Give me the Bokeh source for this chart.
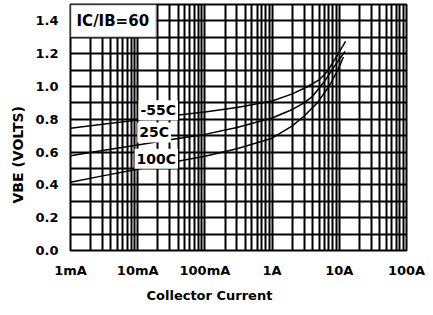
import math
from bokeh.plotting import figure
from bokeh.models import (FixedTicker, CustomJSTickFormatter, PrintfTickFormatter,
                          Label, BoxAnnotation, Title)
from bokeh.embed import file_html
from bokeh.resources import INLINE

# ---- data ----
x_tick_values = [0.001, 0.01, 0.1, 1, 10, 100]
x_tick_labels = ["1mA", "10mA", "100mA", "1A", "10A", "100A"]
y_tick_values = [0.0, 0.2, 0.4, 0.6, 0.8, 1.0, 1.2, 1.4]
x_grid_values = [m * 10.0 ** e for e in range(-3, 2) for m in range(1, 10)] + [100.0]
y_grid_values = [0.0, 0.1, 0.2, 0.3, 0.4, 0.5, 0.6, 0.7, 0.8, 0.9, 1.0, 1.1, 1.2, 1.3, 1.4, 1.5]

ic_m55 = [0.001, 0.003, 0.01, 0.03, 0.1, 0.3, 1, 2, 3.4, 5, 6.6, 9.3, 12.4]
vbe_m55 = [0.745, 0.770, 0.795, 0.820, 0.845, 0.872, 0.912, 0.955, 1.0, 1.04, 1.09, 1.19, 1.275]

ic_25 = [0.001, 0.003, 0.01, 0.03, 0.1, 0.3, 1, 2, 3, 4, 6, 9, 12.2]
vbe_25 = [0.578, 0.61, 0.643, 0.675, 0.708, 0.75, 0.808, 0.86, 0.9, 0.94, 1.03, 1.14, 1.214]

ic_100 = [0.001, 0.003, 0.01, 0.03, 0.1, 0.3, 1, 2, 3, 4.7, 7, 9.5, 11.5]
vbe_100 = [0.416, 0.455, 0.495, 0.535, 0.575, 0.62, 0.685, 0.76, 0.82, 0.90, 1.0, 1.1, 1.18]

FONT = "DejaVu Sans"

p = figure(width=425, height=307, x_axis_type="log",
           x_range=(0.001, 100), y_range=(0, 1.5),
           output_backend="svg", toolbar_location=None,
           min_border_left=69, min_border_right=19,
           min_border_top=4, min_border_bottom=55)

p.outline_line_color = "black"
p.outline_line_width = 2
p.background_fill_color = "white"
p.border_fill_color = "white"

# grids
p.xgrid.ticker = FixedTicker(ticks=x_grid_values)
p.ygrid.ticker = FixedTicker(ticks=y_grid_values)
for g in (p.xgrid, p.ygrid):
    g.grid_line_color = "black"
    g.grid_line_width = 2
    g.grid_line_alpha = 1.0

# axes
p.xaxis.ticker = FixedTicker(ticks=x_tick_values)
p.xaxis.formatter = CustomJSTickFormatter(
    args=dict(vals=x_tick_values, labels=x_tick_labels),
    code="""
    let best = 0, bd = 1e9;
    for (let i = 0; i < vals.length; i++) {
      const d = Math.abs(Math.log10(tick) - Math.log10(vals[i]));
      if (d < bd) { bd = d; best = i; }
    }
    return labels[best];
    """)
p.yaxis.ticker = FixedTicker(ticks=y_tick_values)
p.yaxis.formatter = PrintfTickFormatter(format="%.1f")
for ax in (p.xaxis, p.yaxis):
    ax.axis_line_color = None
    ax.major_tick_line_color = None
    ax.minor_tick_line_color = None
    ax.major_label_text_font = FONT
    ax.major_label_text_font_style = "bold"
    ax.major_label_text_font_size = "13px"
    ax.major_label_text_color = "black"
p.xaxis.major_label_standoff = 6
p.yaxis.major_label_standoff = 6

# curves
for xs, ys in ((ic_m55, vbe_m55), (ic_25, vbe_25), (ic_100, vbe_100)):
    p.line(xs, ys, line_color="black", line_width=1.5)

# IC/IB box
p.add_layout(BoxAnnotation(left=0.001, right=0.019, bottom=1.3, top=1.5,
                           fill_color="white", fill_alpha=1.0,
                           line_color="black", line_width=2, level="annotation"))
p.add_layout(Label(x=0.00123, y=1.40, text="IC/IB=60", text_font=FONT,
                   text_font_style="bold", text_font_size="15px", text_color="black",
                   text_baseline="middle", text_align="left"))

# curve labels
for txt, lx, ly in (("-55C", 0.0202, 0.855), ("25C", 0.0176, 0.72), ("100C", 0.0189, 0.56)):
    p.add_layout(Label(x=lx, y=ly, text=txt, text_font=FONT, text_font_style="bold",
                       text_font_size="14px", text_color="black",
                       text_align="center", text_baseline="middle",
                       background_fill_color="white", background_fill_alpha=1.0,
                       padding=2))

# axis titles
p.add_layout(Title(text="Collector  Current", text_font=FONT, text_font_style="bold",
                   text_font_size="13px", text_color="black",
                   align="left", offset=76, standoff=10), "below")
p.add_layout(Title(text="VBE  (VOLTS)", text_font=FONT, text_font_style="bold",
                   text_font_size="14px", text_color="black",
                   align="left", offset=47, standoff=14), "left")

open("out.html", "w").write(file_html(p, INLINE))
